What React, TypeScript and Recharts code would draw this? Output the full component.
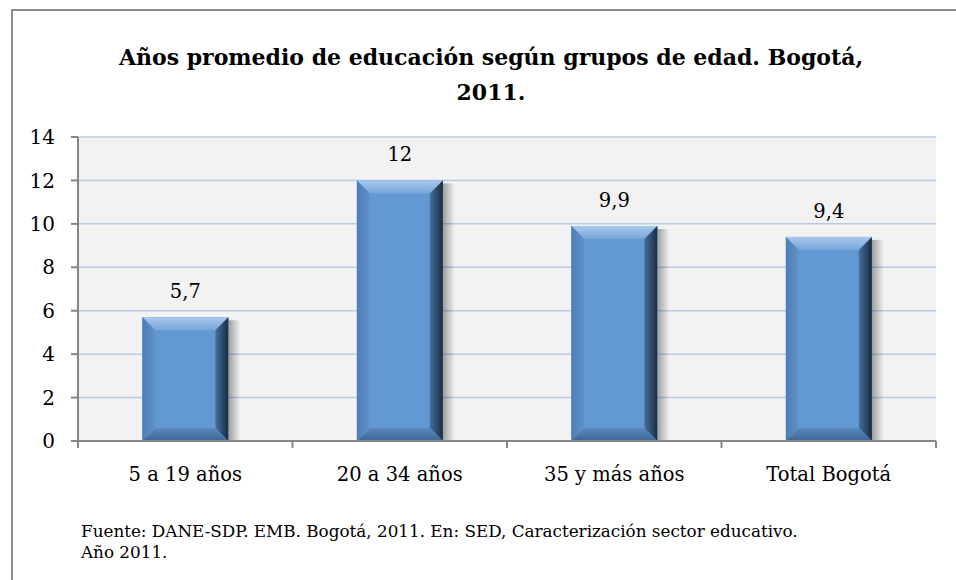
import React from 'react';
import { BarChart, Bar, XAxis, YAxis, CartesianGrid, LabelList } from 'recharts';

const categories = ['5 a 19 años', '20 a 34 años', '35 y más años', 'Total Bogotá'];
const values = [5.7, 12, 9.9, 9.4];
const yTicks = [0, 2, 4, 6, 8, 10, 12, 14];
const titleLines = ['Años promedio de educación según grupos de edad. Bogotá,', '2011.'];
const sourceLines = ['Fuente: DANE-SDP. EMB. Bogotá, 2011. En: SED, Caracterización sector educativo.', 'Año 2011.'];

const data = categories.map((c, i) => ({ name: c, value: values[i] }));

const FONT = '"DejaVu Serif", serif';
const AXIS_COLOR = '#868686';

const BevelBar = (props: any) => {
  const { x, y, width: w, height: h } = props;
  if (!w || !h) return null;
  const b = Math.min(13, w / 2, h / 2);
  return (
    <g>
      <rect x={x + w} y={y + 3} width={12} height={h - 3} fill="url(#shadowGrad)" />
      <rect x={x} y={y} width={w} height={h} fill="#6399d2" />
      <polygon points={`${x},${y} ${x + w},${y} ${x + w - b},${y + b} ${x + b},${y + b}`} fill="url(#topGrad)" />
      <polygon points={`${x},${y} ${x + b},${y + b} ${x + b},${y + h - b} ${x},${y + h}`} fill="url(#leftGrad)" />
      <polygon points={`${x + w},${y} ${x + w},${y + h} ${x + w - b},${y + h - b} ${x + w - b},${y + b}`} fill="url(#rightGrad)" />
      <polygon points={`${x},${y + h} ${x + w},${y + h} ${x + w - b},${y + h - b} ${x + b},${y + h - b}`} fill="url(#bottomGrad)" />
    </g>
  );
};

const CatTick = (props: any) => {
  const { x, y, payload, index } = props;
  const half = payload && payload.offset ? payload.offset : 107.25;
  const axisY = y - 26;
  return (
    <g>
      <line x1={x - half} y1={axisY} x2={x - half} y2={axisY + 7} stroke={AXIS_COLOR} strokeWidth={2} />
      {index === categories.length - 1 && (
        <line x1={x + half} y1={axisY} x2={x + half} y2={axisY + 7} stroke={AXIS_COLOR} strokeWidth={2} />
      )}
      <text x={x} y={y + 14} textAnchor="middle" fontFamily={FONT} fontSize={19.5} fill="#000">
        {payload.value}
      </text>
    </g>
  );
};

export default function App() {
  return (
    <div style={{ position: 'absolute', left: 0, top: 0, width: 956, height: 580, overflow: 'hidden', background: '#fff' }}>
      <div style={{ position: 'absolute', left: 11, top: 9, width: 980, height: 620, border: '2px solid #8c8c8c', boxSizing: 'border-box' }} />
      <div style={{ position: 'absolute', left: 0, top: 0 }}>
        <BarChart width={956} height={580} data={data} margin={{ top: 137, right: 20, bottom: 99, left: 18 }} barCategoryGap="30%">
          <defs>
            <linearGradient id="topGrad" x1="0" y1="0" x2="0" y2="1">
              <stop offset="0%" stopColor="#a9c8ec" />
              <stop offset="100%" stopColor="#77a6da" />
            </linearGradient>
            <linearGradient id="leftGrad" x1="0" y1="0" x2="1" y2="0">
              <stop offset="0%" stopColor="#4f7db3" />
              <stop offset="100%" stopColor="#5f93cb" />
            </linearGradient>
            <linearGradient id="rightGrad" x1="0" y1="0" x2="1" y2="0">
              <stop offset="0%" stopColor="#45709f" />
              <stop offset="100%" stopColor="#1a2b40" />
            </linearGradient>
            <linearGradient id="bottomGrad" x1="0" y1="0" x2="0" y2="1">
              <stop offset="0%" stopColor="#5a89bf" />
              <stop offset="100%" stopColor="#3d6695" />
            </linearGradient>
            <linearGradient id="shadowGrad" x1="0" y1="0" x2="1" y2="0">
              <stop offset="0%" stopColor="#000" stopOpacity={0.35} />
              <stop offset="100%" stopColor="#000" stopOpacity={0} />
            </linearGradient>
          </defs>
          <CartesianGrid vertical={false} fill="#f2f2f2" stroke="#b6cbe7" strokeWidth={1.5} />
          <XAxis
            dataKey="name"
            tickLine={false}
            tickSize={0}
            tickMargin={26}
            axisLine={{ stroke: AXIS_COLOR, strokeWidth: 2 }}
            tick={<CatTick />}
            interval={0}
            height={40}
          />
          <YAxis
            domain={[0, 14]}
            ticks={yTicks}
            width={60}
            interval={0}
            tickSize={7}
            tickMargin={16}
            axisLine={{ stroke: AXIS_COLOR, strokeWidth: 2 }}
            tickLine={{ stroke: AXIS_COLOR, strokeWidth: 2 }}
            tick={{ fontFamily: FONT, fontSize: 20, fill: '#000' }}
          />
          <Bar dataKey="value" shape={<BevelBar />} isAnimationActive={false}>
            <LabelList
              dataKey="value"
              position="top"
              offset={19}
              formatter={(v: any) => String(v).replace('.', ',')}
              style={{ fontFamily: FONT, fontSize: 19.5, fill: '#000' }}
            />
          </Bar>
        </BarChart>
      </div>
      <div style={{ position: 'absolute', left: 0, width: 982, top: 40, textAlign: 'center', fontFamily: FONT, fontWeight: 'bold', fontSize: 22, lineHeight: '35px', color: '#000' }}>
        <div>{titleLines[0]}</div>
        <div>{titleLines[1]}</div>
      </div>
      <div style={{ position: 'absolute', left: 81, top: 521, fontFamily: FONT, fontSize: 16.8, lineHeight: '21px', color: '#000' }}>
        <div>{sourceLines[0]}</div>
        <div>{sourceLines[1]}</div>
      </div>
    </div>
  );
}
